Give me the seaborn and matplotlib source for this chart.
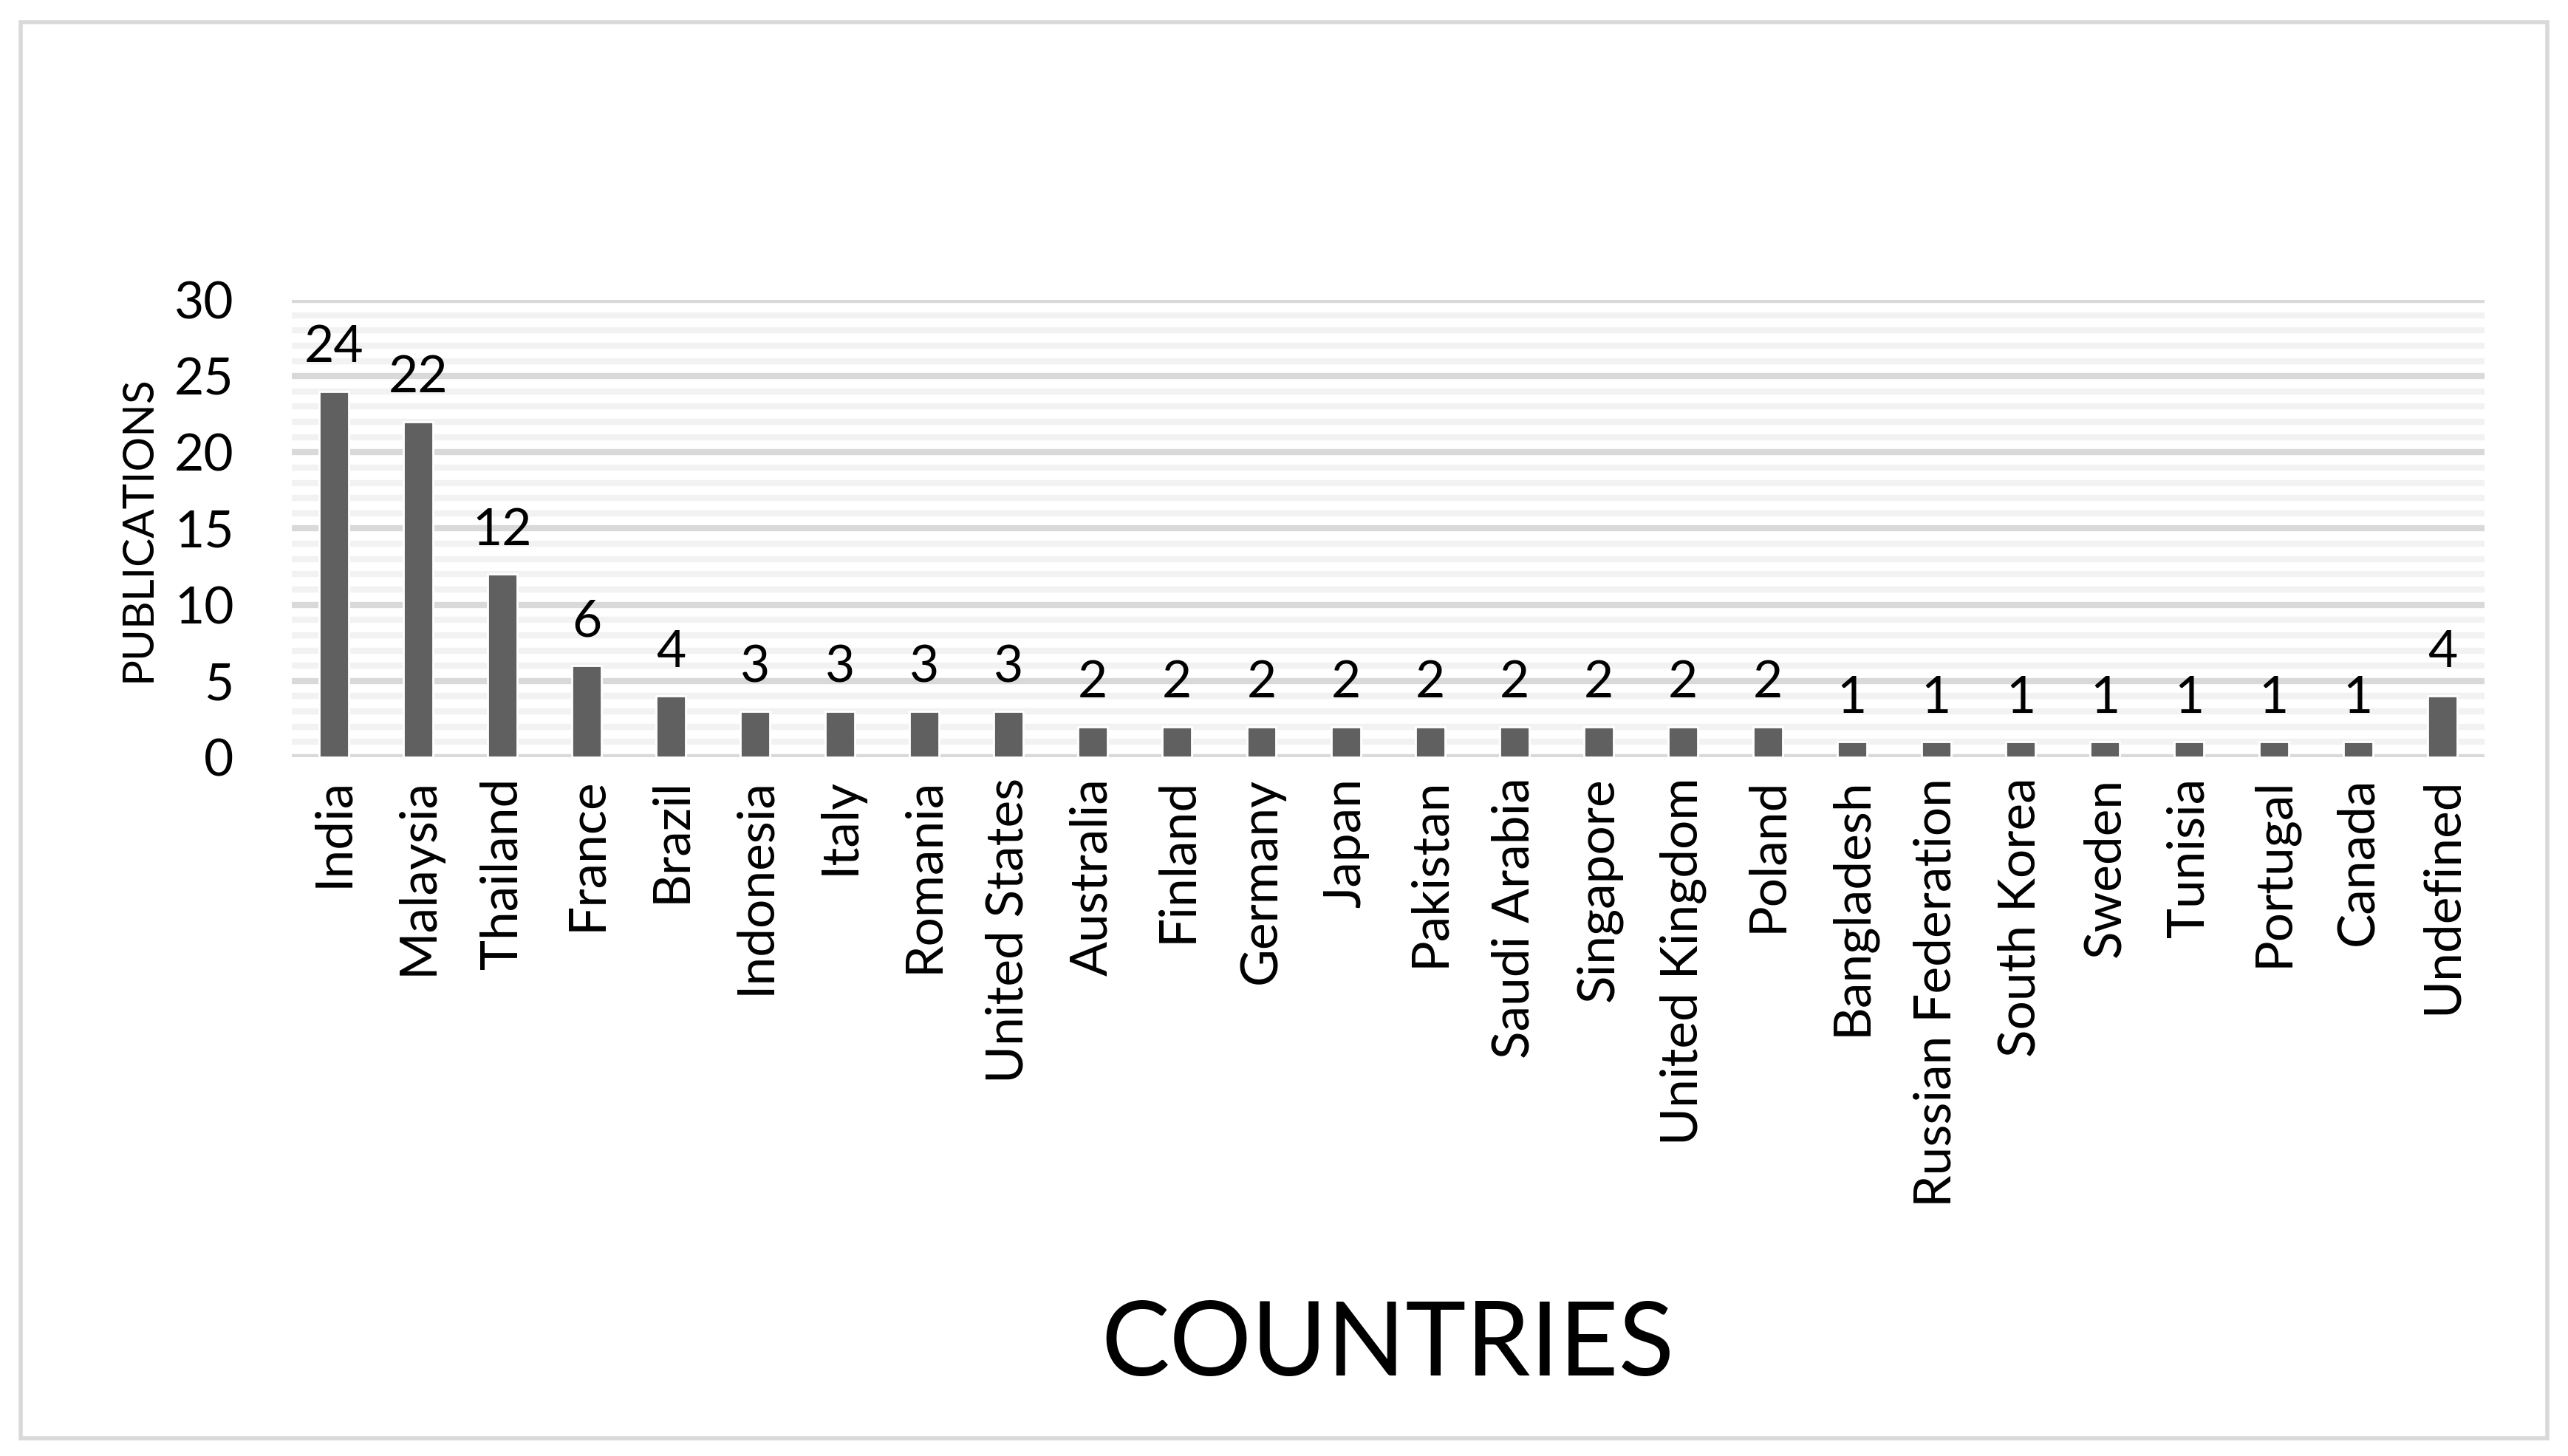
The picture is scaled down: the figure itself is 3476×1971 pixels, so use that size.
import matplotlib
matplotlib.use("Agg")
import matplotlib.pyplot as plt
import seaborn as sns
import pandas as pd
from matplotlib.patches import Rectangle
from matplotlib.ticker import MultipleLocator

countries = ["India", "Malaysia", "Thailand", "France", "Brazil", "Indonesia", "Italy",
             "Romania", "United States", "Australia", "Finland", "Germany", "Japan",
             "Pakistan", "Saudi Arabia", "Singapore", "United Kingdom", "Poland",
             "Bangladesh", "Russian Federation", "South Korea", "Sweden", "Tunisia",
             "Portugal", "Canada", "Undefined"]
publications = [24, 22, 12, 6, 4, 3, 3, 3, 3, 2, 2, 2, 2, 2, 2, 2, 2, 2,
                1, 1, 1, 1, 1, 1, 1, 4]

sns.set_theme(style="white")
plt.rcParams["font.family"] = ["Lato", "DejaVu Sans"]
plt.rcParams["text.color"] = "black"
plt.rcParams["axes.labelcolor"] = "black"
plt.rcParams["xtick.color"] = "black"
plt.rcParams["ytick.color"] = "black"

df = pd.DataFrame({"country": countries, "publications": publications})

fig = plt.figure(figsize=(17.38, 9.855), dpi=200)
ax = fig.add_axes([0.1135, 0.48, 0.854, 0.314])
ax.set_axisbelow(True)
ax.yaxis.set_major_locator(MultipleLocator(5))
ax.yaxis.set_minor_locator(MultipleLocator(1))
ax.grid(which="major", axis="y", color="#d9d9d9", linewidth=3)
ax.grid(which="minor", axis="y", color="#f2f2f2", linewidth=3)
sns.barplot(data=df, x="country", y="publications", color="#606060",
            saturation=1, width=0.35, ax=ax)
ax.set_ylim(0, 30)
ax.set_xlim(-0.5, len(countries) - 0.5)
for c in ax.containers:
    ax.bar_label(c, padding=10, fontsize=25)
for s in ax.spines.values():
    s.set_visible(False)
ax.tick_params(axis="x", rotation=90, labelsize=25, length=0, pad=10)
ax.tick_params(axis="y", labelsize=25, length=0, pad=28, which="both")
ax.set_xlabel("COUNTRIES", fontsize=50, labelpad=45)
ax.set_ylabel("PUBLICATIONS", fontsize=21, labelpad=8)
fig.patches.append(Rectangle((0.008, 0.012), 0.984, 0.973, transform=fig.transFigure,
                             fill=False, edgecolor="#d9d9d9", linewidth=2))
fig.savefig("out.png", dpi=200)
